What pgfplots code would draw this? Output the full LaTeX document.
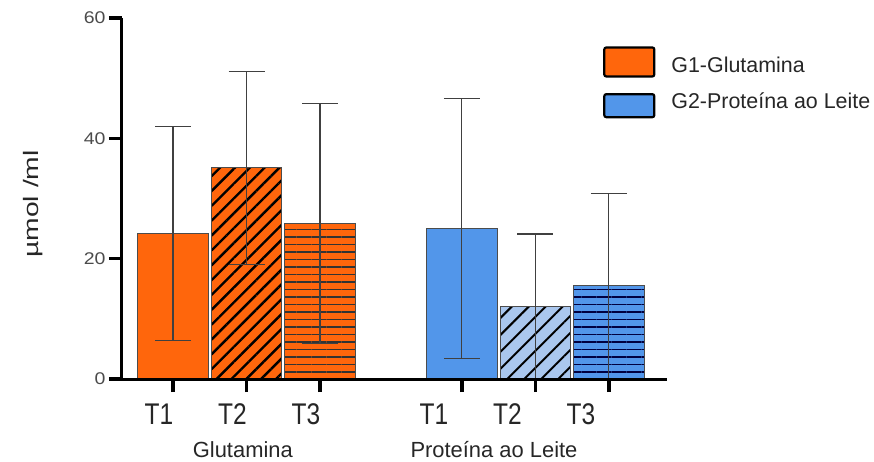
\documentclass[border=0pt]{standalone}
\usepackage{fontspec}
\setmainfont{Liberation Sans}
\newfontfamily\tickfont[FakeStretch=0.82]{Liberation Sans}
\newfontfamily\ylabfont[FakeStretch=1.35]{Liberation Sans}
\newfontfamily\numfont[FakeStretch=1.15]{Liberation Sans}
\usepackage{pgfplots}
\pgfplotsset{compat=1.18}
\usetikzlibrary{patterns.meta}
\definecolor{gorange}{RGB}{255,102,12}
\definecolor{gblue}{RGB}{82,150,234}
\definecolor{lblue}{RGB}{170,199,238}
\definecolor{tickgray}{RGB}{75,75,75}
\pgfplotsset{
  mybar/.style={ybar, bar width=0.96, bar shift=0pt, draw=black!70, line width=0.8bp, forget plot,
     error bars/y dir=both, error bars/y explicit,
     error bars/error bar style={line width=1.1bp, black!75},
     error bars/error mark options={rotate=90, mark size=18bp, line width=1.1bp, black!75}},
}
\begin{document}
\begin{tikzpicture}
\path[use as bounding box] (-122bp,-83bp) rectangle (752bp,379bp);
\begin{axis}[
  scale only axis, width=545bp, height=361bp,
  at={(0,0)}, anchor=south west,
  xmin=-0.694, xmax=6.721, ymin=0, ymax=60,
  axis x line=bottom, axis y line=left,
  axis line style={-, line width=3bp, black},
  axis on top,
  clip=false,
  ytick={0,20,40,60},
  xtick={0,1,2}, xticklabels={T1,T2,T3},
  extra x ticks={3.93,4.93,5.93}, extra x tick labels={T1,T2,T3},
  extra x tick style={grid=none, xticklabel style={xshift=-14bp}},
  tick align=outside, major tick length=13bp,
  tick style={line width=3.5bp, black},
  yticklabel style={font=\numfont\fontsize{17}{17}\selectfont, text=tickgray},
  xticklabel style={font=\tickfont\fontsize{30}{30}\selectfont, text=black!85, xshift=-14bp, yshift=-8bp},
  /pgf/number format/assume math mode=true,
  ylabel={µmol /ml},
  ylabel style={font=\ylabfont\fontsize{21}{21}\selectfont, text=black!85, at={(axis description cs:-0.164,0.485)}, anchor=center},
  legend style={at={(axis description cs:0.8826,0.922)}, anchor=north west, draw=none, fill=none,
    font=\fontsize{21.5}{21.5}\selectfont, text=black!85, row sep=13bp, inner sep=0pt,
    /tikz/every odd column/.append style={column sep=14bp}},
  legend cell align=left,
]
% G1 - Glutamina
\addplot[mybar, fill=gorange] coordinates {(0,24.15) +- (0,17.75)};
\addplot[mybar, fill=gorange, postaction={pattern={Lines[angle=45,distance=10.5bp,line width=2.4bp]}, pattern color=black}] coordinates {(1,35.1) +- (0,16.0)};
\addplot[mybar, fill=gorange, postaction={pattern={Lines[angle=0,distance=7.5bp,line width=1.3bp]}, pattern color=black!80}] coordinates {(2,25.85) +- (0,19.95)};
% G2 - Proteina ao Leite
\addplot[mybar, fill=gblue] coordinates {(3.93,25.0) +- (0,21.65)};
\addplot[mybar, fill=lblue, postaction={pattern={Lines[angle=45,distance=12bp,line width=2bp]}, pattern color=black}] coordinates {(4.93,12.0) +- (0,12.1)};
\addplot[mybar, fill=gblue, postaction={pattern={Lines[angle=0,distance=7.5bp,line width=1.3bp]}, pattern color=black!75!blue}] coordinates {(5.93,15.5) +- (0,15.4)};
\addlegendimage{legend image code/.code={\draw[fill=gorange, draw=black, line width=2.2bp, rounded corners=2bp] (0bp,-11bp) rectangle (50bp,18bp);}}
\addlegendentry{G1-Glutamina}
\addlegendimage{legend image code/.code={\draw[fill=gblue, draw=black, line width=2.2bp, rounded corners=2bp] (0bp,-16bp) rectangle (50bp,7bp);}}
\addlegendentry{G2-Proteína ao Leite}
\node[font=\fontsize{22}{22}\selectfont, text=black!85, anchor=base, yshift=-78bp] at (axis cs:0.95,0) {Glutamina};
\node[font=\fontsize{22}{22}\selectfont, text=black!85, anchor=base, yshift=-78bp] at (axis cs:4.367,0) {Proteína ao Leite};
\end{axis}
\end{tikzpicture}
\end{document}
